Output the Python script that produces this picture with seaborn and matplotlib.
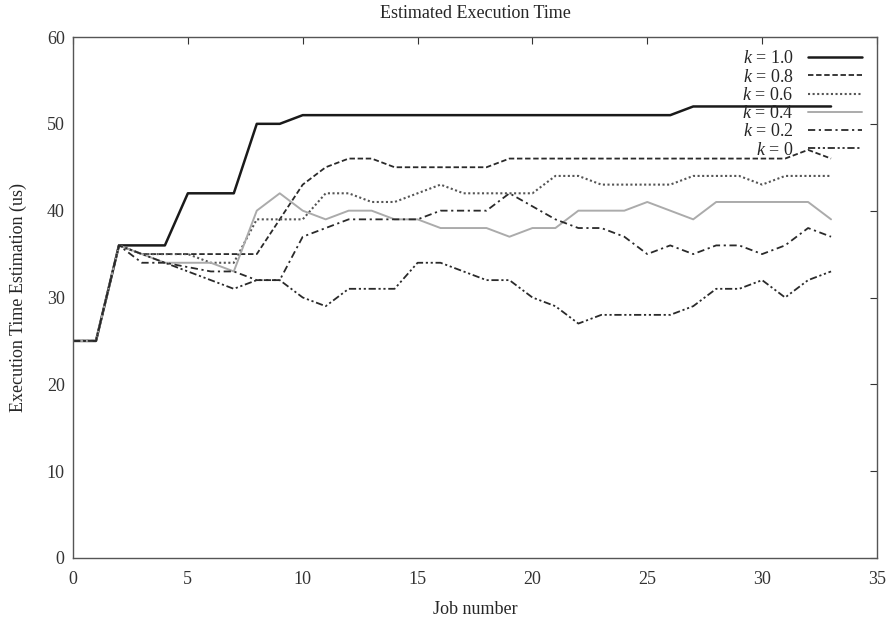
import numpy as np
import pandas as pd
import seaborn as sns
import matplotlib
matplotlib.use("Agg")
import matplotlib.pyplot as plt

jobs = list(range(34))
k10 = [25,25,36,36,36,42,42,42,50,50,51,51,51,51,51,51,51,51,51,51,51,51,51,51,51,51,51,52,52,52,52,52,52,52]
k08 = [25,25,36,35,35,35,35,35,35,39,43,45,46,46,45,45,45,45,45,46,46,46,46,46,46,46,46,46,46,46,46,46,47,46]
k06 = [25,25,36,35,35,35,34,34,39,39,39,42,42,41,41,42,43,42,42,42,42,44,44,43,43,43,43,44,44,44,43,44,44,44]
k04 = [25,25,36,35,34,34,34,33,40,42,40,39,40,40,39,39,38,38,38,37,38,38,40,40,40,41,40,39,41,41,41,41,41,39]
k02 = [25,25,36,34,34,33.5,33,33,32,32,37,38,39,39,39,39,40,40,40,42,40.5,39,38,38,37,35,36,35,36,36,35,36,38,37]
k00 = [25,25,36,35,34,33,32,31,32,32,30,29,31,31,31,34,34,33,32,32,30,29,27,28,28,28,28,29,31,31,32,30,32,33]
labels = [r"$k$ = 1.0", r"$k$ = 0.8", r"$k$ = 0.6", r"$k$ = 0.4", r"$k$ = 0.2", r"$k$ = 0"]
series = [k10, k08, k06, k04, k02, k00]

sns.set_theme(style="white")
plt.rcParams["font.family"] = ["Liberation Serif", "DejaVu Serif"]
plt.rcParams["mathtext.fontset"] = "custom"
plt.rcParams["mathtext.it"] = "Liberation Serif:italic"
plt.rcParams["mathtext.rm"] = "Liberation Serif"

styles = [
    dict(color="#1a1a1a", linestyle="-", linewidth=1.8),
    dict(color="#2a2a2a", linestyle=(0, (3, 1.5)), linewidth=1.3),
    dict(color="#555555", linestyle=(0, (1, 1.2)), linewidth=1.5),
    dict(color="#ababab", linestyle="-", linewidth=1.4),
    dict(color="#2a2a2a", linestyle=(0, (4, 2, 1.2, 2)), linewidth=1.3),
    dict(color="#2a2a2a", linestyle=(0, (4, 1.5, 1.2, 1.5, 1.2, 1.5)), linewidth=1.3),
]

fig = plt.figure(figsize=(8.92, 6.22), dpi=100)
ax = fig.add_axes([73/892, 1-558/622, (877-73)/892, (558-37)/622])

for lab, vals, st in zip(labels, series, styles):
    sns.lineplot(x=jobs, y=vals, ax=ax, label=lab, **st)

ax.set_xlim(0, 35)
ax.set_ylim(0, 60)
ax.set_xticks(range(0, 36, 5))
ax.set_yticks(range(0, 61, 10))
ax.tick_params(axis="both", direction="in", length=5, width=0.8, colors="#333333",
               labelsize=13, top=True, right=True, pad=6)
ax.tick_params(axis="x", pad=9)
for s in ax.spines.values():
    s.set_color("#555555")
    s.set_linewidth(1.0)

ax.set_xlabel("Job number", fontsize=13, labelpad=10)
ax.set_ylabel("Execution Time Estimation (us)", fontsize=13, labelpad=14)
ax.set_title("Estimated Execution Time", fontsize=13, pad=14)

leg = ax.legend(loc="upper right", bbox_to_anchor=(0.995, 0.995), frameon=False,
                markerfirst=False, fontsize=13, labelspacing=0.07, handlelength=3.0,
                handletextpad=0.8, borderaxespad=0.2)

fig.savefig("out.png", dpi=100)
